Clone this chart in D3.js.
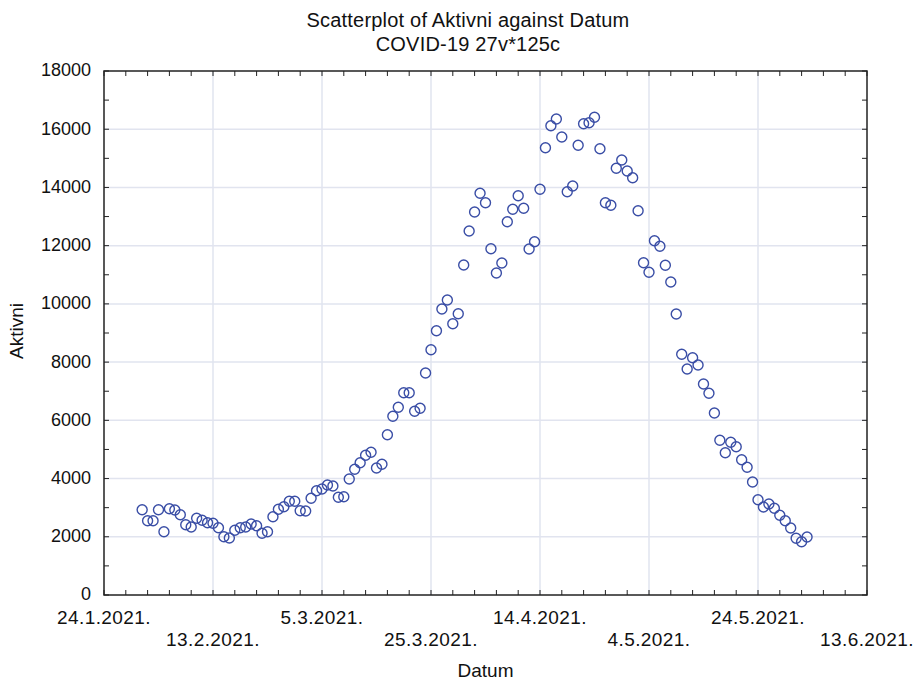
<!DOCTYPE html>
<html>
<head>
<meta charset="utf-8">
<script src="https://cdn.jsdelivr.net/npm/d3@7"></script>
<style>
  body { margin: 0; background: #fff; }
  text { font-family: "Liberation Sans", Arial, sans-serif; fill: #111; }
</style>
</head>
<body>
<div id="chart"></div>
<script>
// first day of data, one case per day
const startDate = '2021-01-31';
const aktivni = [
  2930, 2552, 2552, 2930, 2174, 2964, 2920, 2758, 2415, 2336,
  2635, 2566, 2484, 2463, 2312, 2003, 1958, 2222, 2312, 2336,
  2439, 2380, 2119, 2174, 2690, 2944, 3033, 3219, 3219, 2896,
  2885, 3322, 3583, 3641, 3779, 3744, 3356, 3377, 3985, 4318,
  4545, 4799, 4902, 4362, 4490, 5507, 6138, 6448, 6950, 6950,
  6310, 6413, 7626, 8426, 9079, 9824, 10133, 9319, 9663, 11336,
  12503, 13156, 13798, 13476, 11895, 11061, 11404, 12823, 13249, 13716,
  13283, 11885, 12136, 13936, 15365, 16120, 16351, 15732, 13853, 14049,
  15447, 16189, 16223, 16409, 15330, 13476, 13386, 14657, 14942, 14564,
  14334, 13201, 11414, 11085, 12170, 11978, 11325, 10752, 9652, 8268,
  7763, 8151, 7901, 7248, 6928, 6252, 5314, 4888, 5245, 5094,
  4648, 4386, 3882, 3274, 3023, 3126, 2978, 2738, 2552, 2301,
  1948, 1831, 1992
];
const xTickLabels = ['24.1.2021.', '13.2.2021.', '5.3.2021.', '25.3.2021.',
  '14.4.2021.', '4.5.2021.', '24.5.2021.', '13.6.2021.'];
const yTicks = [0, 2000, 4000, 6000, 8000, 10000, 12000, 14000, 16000, 18000];

const parse = d3.timeParse('%Y-%m-%d');
const d0 = parse(startDate);
const dataset = aktivni.map((v, i) => ({ date: d3.timeDay.offset(d0, i), value: v }));
const xTicks = xTickLabels.map(s => d3.timeParse('%d.%m.%Y.')(s));

const width = 917, height = 682;
const margin = { top: 71, right: 50, bottom: 87, left: 104 };
const graphWidth = width - margin.left - margin.right;
const graphHeight = height - margin.top - margin.bottom;

const svg = d3.select('#chart').append('svg')
  .attr('width', width)
  .attr('height', height);

const g = svg.append('g')
  .attr('transform', `translate(${margin.left},${margin.top})`);

const x = d3.scaleTime()
  .domain([xTicks[0], xTicks[xTicks.length - 1]])
  .range([0, graphWidth]);

const y = d3.scaleLinear()
  .domain([0, 18000])
  .range([graphHeight, 0]);

const gridColor = '#e1e4ef';
const axisColor = '#222';

// grid
g.append('g').selectAll('line.vg')
  .data(xTicks.slice(1, -1))
  .join('line')
  .attr('x1', d => x(d)).attr('x2', d => x(d))
  .attr('y1', 0).attr('y2', graphHeight)
  .attr('stroke', gridColor).attr('stroke-width', 1.5);

g.append('g').selectAll('line.hg')
  .data(yTicks.slice(1, -1))
  .join('line')
  .attr('x1', 0).attr('x2', graphWidth)
  .attr('y1', d => y(d)).attr('y2', d => y(d))
  .attr('stroke', gridColor).attr('stroke-width', 1.5);

// minor ticks (every 4 days, every 1000), pointing inward on all four sides
const minorX = d3.timeDay.range(xTicks[0], d3.timeDay.offset(xTicks[xTicks.length - 1], 1), 4);
const minorY = d3.range(0, 18001, 1000);

const ticks = g.append('g').attr('stroke', axisColor).attr('stroke-width', 1);
ticks.selectAll('line.bx').data(minorX).join('line')
  .attr('x1', d => x(d)).attr('x2', d => x(d))
  .attr('y1', graphHeight).attr('y2', graphHeight - 5);
ticks.selectAll('line.tx').data(minorX).join('line')
  .attr('x1', d => x(d)).attr('x2', d => x(d))
  .attr('y1', 0).attr('y2', 5);
ticks.selectAll('line.ly').data(minorY).join('line')
  .attr('x1', 0).attr('x2', 5)
  .attr('y1', d => y(d)).attr('y2', d => y(d));
ticks.selectAll('line.ry').data(minorY).join('line')
  .attr('x1', graphWidth).attr('x2', graphWidth - 5)
  .attr('y1', d => y(d)).attr('y2', d => y(d));

// frame
g.append('rect')
  .attr('width', graphWidth).attr('height', graphHeight)
  .attr('fill', 'none').attr('stroke', axisColor).attr('stroke-width', 1.5);

// x tick labels, alternating rows
g.append('g').selectAll('text')
  .data(xTicks)
  .join('text')
  .attr('x', d => x(d))
  .attr('y', (d, i) => graphHeight + (i % 2 === 0 ? 29 : 51))
  .attr('text-anchor', 'middle')
  .style('font-size', '19px')
  .style('letter-spacing', '0.4px')
  .text((d, i) => xTickLabels[i]);

// y tick labels
g.append('g').selectAll('text')
  .data(yTicks)
  .join('text')
  .attr('x', -13)
  .attr('y', d => y(d))
  .attr('dy', '0.3em')
  .attr('text-anchor', 'end')
  .style('font-size', '18px')
  .text(d => d);

// points
g.append('g').selectAll('circle')
  .data(dataset)
  .join('circle')
  .attr('cx', d => x(d.date))
  .attr('cy', d => y(d.value))
  .attr('r', 5)
  .attr('fill', 'none')
  .attr('stroke', '#3a4ea6')
  .attr('stroke-width', 1.4);

// titles
svg.append('text')
  .attr('x', 468).attr('y', 27)
  .attr('text-anchor', 'middle')
  .style('font-size', '20px')
  .style('letter-spacing', '0.2px')
  .text('Scatterplot of Aktivni against Datum');
svg.append('text')
  .attr('x', 468).attr('y', 51)
  .attr('text-anchor', 'middle')
  .style('font-size', '20px')
  .style('letter-spacing', '0.2px')
  .text('COVID-19 27v*125c');

svg.append('text')
  .attr('x', margin.left + graphWidth / 2).attr('y', 677)
  .attr('text-anchor', 'middle')
  .style('font-size', '19px')
  .text('Datum');

svg.append('text')
  .attr('transform', `translate(23,${margin.top + graphHeight / 2 - 2}) rotate(-90)`)
  .attr('text-anchor', 'middle')
  .style('font-size', '19px')
  .text('Aktivni');
</script>
</body>
</html>
